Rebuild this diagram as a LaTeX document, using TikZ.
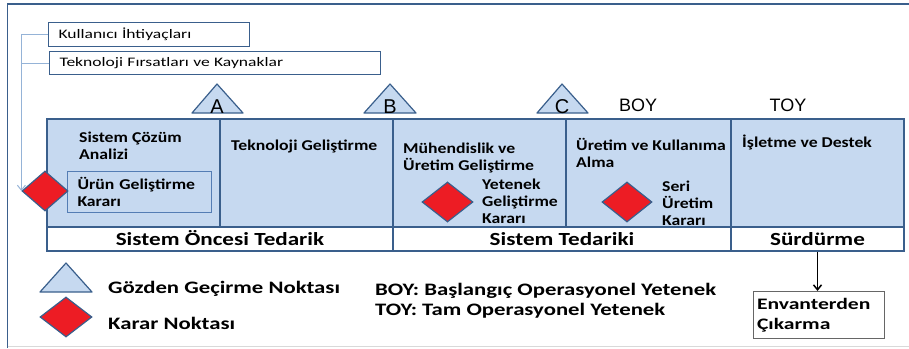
\documentclass[tikz,border=0pt]{standalone}
\usepackage{fontspec}
\setmainfont{Carlito}[FakeStretch=1.18]
\newfontfamily\bandfont{Carlito}[FakeStretch=1.25]
\newfontfamily\legfont{Carlito}[FakeStretch=1.3]
\newfontfamily\boxfont{Carlito}[FakeStretch=1.35]
\newfontfamily\arialfont{Liberation Sans}
\usepackage{tikz}
\usetikzlibrary{shapes.geometric, arrows.meta}
\definecolor{hellblau}{RGB}{198,217,240}
\definecolor{dunkelblau}{RGB}{58,95,140}
\definecolor{mittelblau}{RGB}{84,125,180}
\definecolor{linienblau}{RGB}{149,179,215}
\definecolor{rot}{RGB}{237,28,36}
\tikzstyle{line} = [draw, -{Straight Barb[length=5pt,width=8pt]}]

\begin{document}
\begin{tikzpicture}[x=1pt, y=-1pt,
		phase/.style={draw=dunkelblau, line width=1.5pt, fill=hellblau, inner sep=0pt},
		band/.style={draw=dunkelblau, line width=1.5pt, fill=white, inner sep=0pt},
		bandtext/.style={anchor=base, inner sep=0pt, font=\bandfont\fontsize{18.5}{20}\selectfont\bfseries},
		entscheid/.style={diamond, draw=dunkelblau, line width=1.2pt, fill=rot, minimum width=46, minimum height=40, inner sep=0pt},
		pruef/.style={draw=dunkelblau, line width=1.2pt, fill=hellblau, line join=round},
		ptext/.style={anchor=base west, inner sep=0pt, align=left, font=\fontsize{15}{17}\selectfont\bfseries},
		obox/.style={draw=dunkelblau, line width=1pt, fill=white, anchor=north west, align=left, inner xsep=10pt, font=\boxfont\fontsize{13}{15}\selectfont},
		legende/.style={anchor=base west, inner sep=0pt, font=\legfont\fontsize{17.5}{20}\selectfont\bfseries},
		buchst/.style={anchor=base, inner sep=0pt, font=\arialfont\fontsize{20}{22}\selectfont}]
	\useasboundingbox (0,0) rectangle (909,348);
	%Rahmen
	\draw [dunkelblau, line width=1.2pt] (7.5,348) -- (7.5,4) -- (909,4);
	\draw [black!15, line width=1pt] (7.5,346.5) -- (909,346.5);
	%Phasen
	\node [phase, minimum width=173, minimum height=108] (p1) at (133.5,173) {};
	\node [phase, minimum width=173, minimum height=108] (p2) at (306.5,173) {};
	\node [phase, minimum width=173, minimum height=108] (p3) at (479.5,173) {};
	\node [phase, minimum width=165, minimum height=108] (p4) at (648.5,173) {};
	\node [phase, minimum width=173, minimum height=108] (p5) at (817.5,173) {};
	\node [band, minimum width=346, minimum height=24] (sot) at (220,239) {};
	\node [band, minimum width=338, minimum height=24] (st) at (562,239) {};
	\node [band, minimum width=173, minimum height=24] (sd) at (817.5,239) {};
	\node [bandtext] (sott) at (220,245.5) {Sistem Öncesi Tedarik};
	\node [bandtext] (stt) at (562,245.5) {Sistem Tedariki};
	\node [bandtext] (sdt) at (817.5,245.5) {Sürdürme};
	%Texte in den Phasen (Grundlinie der letzten Zeile)
	\node [ptext] (t1) at (79,159) {Sistem Çözüm\\Analizi};
	\node [ptext] (t2) at (231,150.5) {Teknoloji Geliştirme};
	\node [ptext] (t3) at (403,170) {Mühendislik ve\\Üretim Geliştirme};
	\node [ptext] (t4) at (576,167) {Üretim ve Kullanıma\\Alma};
	\node [ptext] (t5) at (742,147) {İşletme ve Destek};
	\node [draw=mittelblau, line width=1pt, fill=hellblau, anchor=north west, minimum width=144, minimum height=41, text width=124, inner xsep=10pt, align=left, font=\fontsize{15}{17}\selectfont\bfseries] (ug) at (67,171) {Ürün Geliştirme\\Kararı};
	%Karar noktalari
	\node [entscheid] (d1) at (45,191) {};
	\node [entscheid, minimum width=51] (d2) at (447.5,202) {};
	\node [entscheid, minimum width=50] (d3) at (627,202) {};
	\node [ptext] (k2) at (482,223.5) {Yetenek\\Geliştirme\\Kararı};
	\node [ptext] (k3) at (662,225) {Seri\\Üretim\\Kararı};
	%Gozden gecirme
	\draw [pruef] (192,113) -- (217,84) -- (243,113) -- cycle;
	\draw [pruef] (364,113) -- (390,84) -- (416,113) -- cycle;
	\draw [pruef] (537,113) -- (562,84) -- (588,113) -- cycle;
	\node [buchst] (ga) at (217,113) {A};
	\node [buchst] (gb) at (390,113) {B};
	\node [buchst] (gc) at (562,113) {C};
	\node [buchst, font=\arialfont\fontsize{18}{20}\selectfont] (boy) at (638,111) {BOY};
	\node [buchst, font=\arialfont\fontsize{18}{20}\selectfont] (toy) at (788,111) {TOY};
	%Eingaben
	\node [obox, minimum width=201, minimum height=24, text width=181] (kb) at (48,22) {Kullanıcı İhtiyaçları};
	\node [obox, minimum width=331, minimum height=23, text width=311] (tf) at (49,51) {Teknoloji Fırsatları ve Kaynaklar};
	\draw [line, linienblau, line width=1pt] (kb.west) -| (d1.west);
	\draw [linienblau, line width=1pt] (tf.west) -- (tf.west -| d1.west);
	%Envanter
	\node [draw=black!60, line width=1pt, fill=white, anchor=north west, minimum width=131, minimum height=47, text width=124, inner xsep=3.5pt, align=left, font=\boxfont\fontsize{16}{20}\selectfont\bfseries] (env) at (753,291) {Envanterden\\Çıkarma};
	\draw [line, black, line width=1.5pt] (sd.south) -- (sd.south |- env.north);
	%Legende
	\draw [pruef] (40,292) -- (66,263) -- (92,292) -- cycle;
	\node [entscheid, minimum width=52] (ld) at (66,317) {};
	\node [legende] (lg) at (108,293.5) {Gözden Geçirme Noktası};
	\node [legende] (lk) at (108,329) {Karar Noktası};
	\node [legende] (lb) at (375,295.5) {BOY: Başlangıç Operasyonel Yetenek};
	\node [legende] (lt) at (375,315.5) {TOY: Tam Operasyonel Yetenek};
\end{tikzpicture}
\end{document}
